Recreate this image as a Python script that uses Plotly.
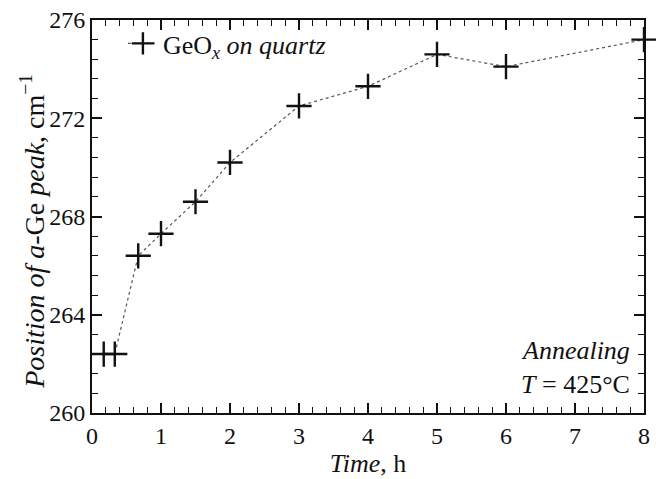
import plotly.graph_objects as go

time_h = [0.17, 0.33, 0.67, 1.0, 1.5, 2.0, 3.0, 4.0, 5.0, 6.0, 8.0]
peak_pos = [262.4, 262.4, 266.4, 267.3, 268.6, 270.2, 272.5, 273.3, 274.6, 274.1, 275.2]

FONT = "Times New Roman, Times, Liberation Serif, DejaVu Serif, serif"

fig = go.Figure()
fig.add_trace(go.Scatter(
    x=time_h, y=peak_pos, mode="lines+markers",
    name="GeO<sub><i>x</i></sub> <i>on quartz</i>",
    line=dict(color="#555555", width=1.2, dash="dot"),
    marker=dict(symbol="cross-thin", size=18, line=dict(color="#111111", width=2.4)),
    cliponaxis=False,
))

axis_common = dict(
    showline=True, linecolor="#111111", linewidth=2, mirror="ticks",
    ticks="inside", ticklen=10, tickwidth=1.6, tickcolor="#111111",
    showgrid=False, zeroline=False,
    tickfont=dict(family=FONT, size=24, color="#111111"),
)

fig.update_xaxes(
    range=[0, 8], dtick=1, tick0=0,
    minor=dict(ticks="inside", dtick=0.2, ticklen=6, tickwidth=1.4, tickcolor="#111111"),
    title=dict(text="<i>Time</i>, h", font=dict(family=FONT, size=26, color="#111111"), standoff=0),
    **axis_common,
)
fig.update_yaxes(
    range=[260, 276], dtick=4, tick0=260,
    minor=dict(ticks="inside", dtick=0.8, ticklen=6, tickwidth=1.4, tickcolor="#111111"),
    **axis_common,
)

# y-axis title (placed as rotated annotation to match the reference's offset)
fig.add_annotation(
    x=-0.109, y=0.463, xref="paper", yref="paper", xanchor="center", yanchor="middle",
    text="<i>Position of a</i>-Ge <i>peak</i>, cm<sup>−1</sup>", textangle=-90,
    showarrow=False, font=dict(family=FONT, size=28, color="#111111"),
)

fig.add_annotation(
    x=1, y=0.03, xref="paper", yref="paper", xanchor="right", yanchor="bottom",
    xshift=-12,
    text="<i>Annealing</i><br><i>T</i> = 425°C", showarrow=False, align="right",
    font=dict(family=FONT, size=26, color="#111111"),
)

fig.update_layout(
    width=656, height=479,
    margin=dict(l=92, r=6, t=20, b=66),
    paper_bgcolor="white", plot_bgcolor="white",
    font=dict(family=FONT, size=24, color="#111111"),
    showlegend=True,
    legend=dict(x=0.056, y=1.0, xanchor="left", yanchor="top",
                bgcolor="rgba(0,0,0,0)", font=dict(family=FONT, size=26, color="#111111")),
)

fig.write_html("out.html")
